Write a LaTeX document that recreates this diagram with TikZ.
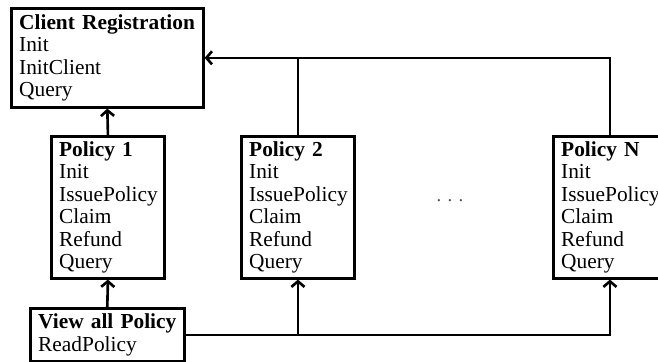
\documentclass[tikz,border=0pt]{standalone}
\usepackage{fontspec}
\setmainfont{Liberation Serif}
\usepackage{tikz}
\usetikzlibrary{arrows.meta}
\begin{document}
\begin{tikzpicture}[x=0.5333pt,y=-0.5333pt]
	\tikzset{box/.style={draw,line width=1.4pt,align=left,anchor=north west,inner xsep=4.2pt,inner ysep=0pt,font=\fontsize{11.4}{12}\selectfont},
		link/.style={draw,line width=1.4pt,-{Straight Barb[length=3pt,width=7pt]}}}
	\useasboundingbox (0,0) rectangle (658,362);
	\node[box,text width=94pt,minimum height=52.8pt] (cr) at (10,7) {\textbf{Client Registration}\\Init\\InitClient\\Query};
	\node[box,text width=52pt,minimum height=75.7pt] (p1) at (50,135) {\textbf{Policy 1}\\Init\\IssuePolicy\\Claim\\Refund\\Query};
	\node[box,text width=52pt,minimum height=75.7pt] (p2) at (240,135) {\textbf{Policy 2}\\Init\\IssuePolicy\\Claim\\Refund\\Query};
	\node[box,text width=52pt,minimum height=75.7pt] (pn) at (552,135) {\textbf{Policy N}\\Init\\IssuePolicy\\Claim\\Refund\\Query};
	\node[box,text width=73.7pt,minimum height=28.3pt] (view) at (29,307) {\textbf{View all Policy}\\ReadPolicy};
	\node[font=\fontsize{10}{12}\selectfont,text=black!70] (dots) at (450,201) {.\,\,.\,\,.};
	\draw[link] (p1.north) -- (cr.south);
	\draw[link] (view.north) -- (p1.south);
	\draw[link] (pn.north) |- (cr.east);
	\draw[link,-] (p2.north) -- (p2.north |- cr.east);
	\draw[link] (view.east) -| (pn.south);
	\draw[link] (view.east -| p2.south) -- (p2.south);
\end{tikzpicture}
\end{document}
